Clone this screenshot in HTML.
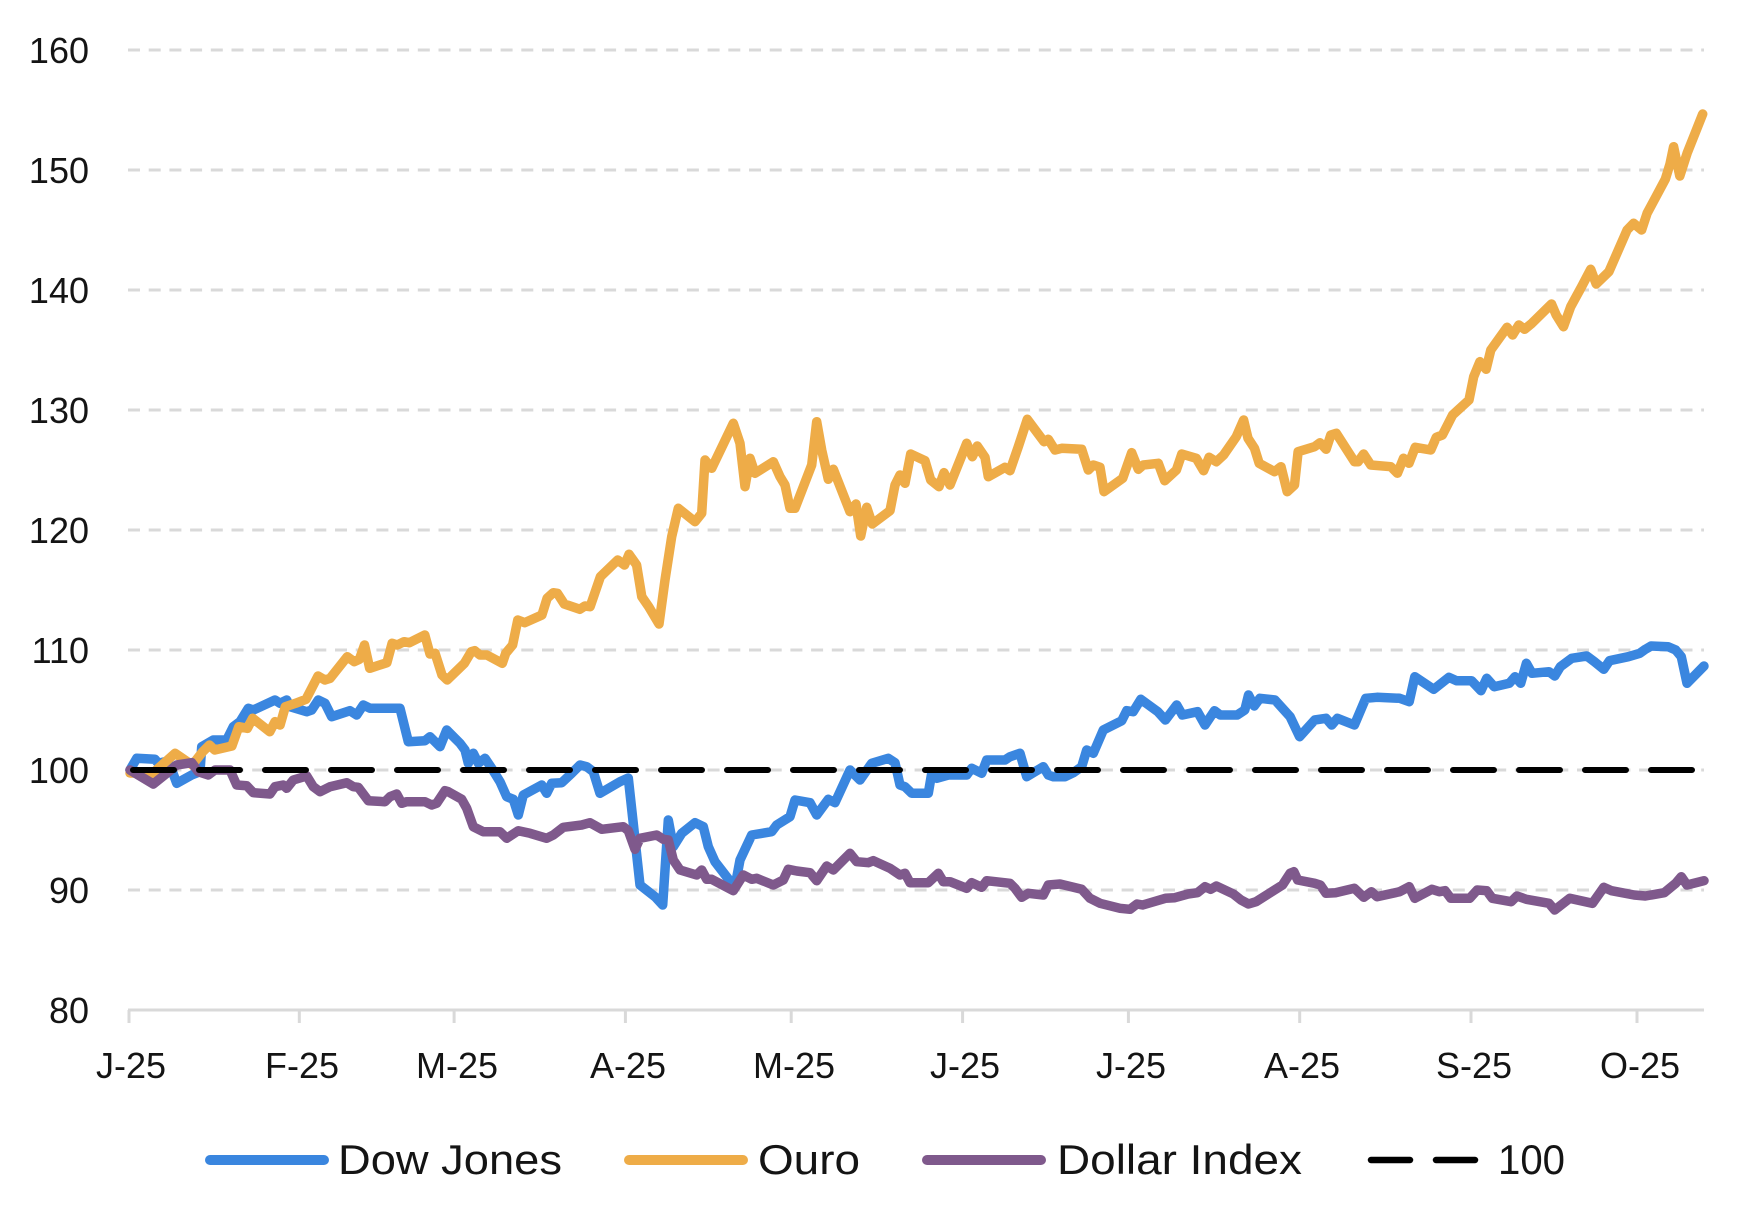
<!DOCTYPE html>
<html>
<head>
<meta charset="utf-8">
<style>
html,body{margin:0;padding:0;background:#fff;}
svg{display:block;}
text{font-family:"Liberation Sans",Arial,sans-serif;fill:#141414;}
</style>
</head>
<body>
<svg width="1755" height="1229" viewBox="0 0 1755 1229" xmlns="http://www.w3.org/2000/svg">
<rect width="1755" height="1229" fill="#fff"/>
<!-- gridlines -->
<g stroke="#d9d9d9" stroke-width="3" stroke-dasharray="12 8.7">
<line x1="128" y1="50" x2="1704" y2="50"/>
<line x1="128" y1="170" x2="1704" y2="170"/>
<line x1="128" y1="290" x2="1704" y2="290"/>
<line x1="128" y1="410" x2="1704" y2="410"/>
<line x1="128" y1="530" x2="1704" y2="530"/>
<line x1="128" y1="650" x2="1704" y2="650"/>
<line x1="128" y1="770" x2="1704" y2="770"/>
<line x1="128" y1="890" x2="1704" y2="890"/>
</g>
<!-- axis -->
<g stroke="#d9d9d9" stroke-width="3">
<line x1="128" y1="1010" x2="1704" y2="1010"/>
<line x1="129" y1="1010" x2="129" y2="1023"/>
<line x1="299.3" y1="1010" x2="299.3" y2="1023"/>
<line x1="454.1" y1="1010" x2="454.1" y2="1023"/>
<line x1="625.4" y1="1010" x2="625.4" y2="1023"/>
<line x1="791.2" y1="1010" x2="791.2" y2="1023"/>
<line x1="962.6" y1="1010" x2="962.6" y2="1023"/>
<line x1="1128.4" y1="1010" x2="1128.4" y2="1023"/>
<line x1="1299.7" y1="1010" x2="1299.7" y2="1023"/>
<line x1="1471" y1="1010" x2="1471" y2="1023"/>
<line x1="1637" y1="1010" x2="1637" y2="1023"/>
</g>
<!-- y labels -->
<g font-size="36" text-anchor="end">
<text x="89" y="63">160</text>
<text x="89" y="183">150</text>
<text x="89" y="303">140</text>
<text x="89" y="423">130</text>
<text x="89" y="543">120</text>
<text x="89" y="663">110</text>
<text x="89" y="783">100</text>
<text x="89" y="903">90</text>
<text x="89" y="1023">80</text>
</g>
<!-- x labels -->
<g font-size="36" text-anchor="middle">
<text x="131" y="1078">J-25</text>
<text x="302" y="1078">F-25</text>
<text x="457" y="1078">M-25</text>
<text x="628" y="1078">A-25</text>
<text x="794" y="1078">M-25</text>
<text x="965" y="1078">J-25</text>
<text x="1131" y="1078">J-25</text>
<text x="1302" y="1078">A-25</text>
<text x="1474" y="1078">S-25</text>
<text x="1640" y="1078">O-25</text>
</g>
<!-- series -->
<g fill="none" stroke-width="9.5" stroke-linejoin="round" stroke-linecap="round">
<polyline stroke="#3a86df" points="130,770 136.7,758.3 155,759.3 158.3,763.3 165,761.7 170,765 176.7,783.3 191.7,775 200,771.7 201.7,746.7 213.3,740 226.7,740 233.3,726.7 240,721.7 248.3,708.3 253.3,710 275,700 280,703.3 286.7,700 290,706.7 306.7,711.7 311.7,710 318.3,700 325,703.3 331.7,716.7 350,710.7 356.7,715 363.3,705 370,708.3 396.7,708.3 400,708.3 408.3,741.7 425,740.7 430,736.7 440,746.7 446.7,730 460,743.3 465,750 468.3,763.3 473.3,753.3 478.3,763.3 485,758.3 491.7,768.3 500,781.7 506.7,796.7 513.3,799.3 518.3,815 523.3,795 541.7,785 546.7,793.3 551.7,783.3 561.7,782.7 571.7,773.3 580,765 586.7,766.7 593.3,771.7 600,793.3 620,781.7 628.3,778 640,885 655,896.7 662.7,905 668.3,820 673.3,846.7 681.7,833.3 695,822.7 703.3,826.7 708.3,846.7 715,861.7 731.7,883.3 735,886.7 740,860 751.7,835 771.7,831.7 776.7,825 790,816.7 795,800 810,802.7 816.7,815 828.3,799.3 835,802.7 850,770 860,780 871.7,763.3 888.3,758.3 895,762.7 900,785 905,786.7 911.7,793.3 928.3,793.3 931.7,773.3 936.7,778.3 948.3,775 966.7,775 971.7,768.3 981.7,773.3 986.7,760 1005,760 1010,756.7 1020,753.3 1026.7,776.7 1043.3,766.7 1048.3,775 1053.3,776.7 1065,776.7 1073.3,772.7 1081.7,766.7 1086.7,750 1093.3,753.3 1103.3,730 1121.7,720.7 1126.7,710.7 1133.2,711.7 1140.8,699.3 1157.8,711.7 1165.4,720 1176.7,705 1182.4,715 1197.5,711.7 1205,725 1214.5,710.7 1220.2,715 1237.2,715 1244.8,710 1248.5,695 1254.2,706 1259.9,698.3 1275,700 1282.5,708.3 1290.1,716.7 1299.6,736.7 1314.7,720 1326,718.3 1331.7,725 1337.4,718.3 1354.4,725 1365.7,698.3 1377,697.3 1399.7,698.3 1409.2,701.7 1414.8,676.7 1433.7,689.3 1448.9,677.3 1456.4,680.7 1471.5,680.7 1481,690.7 1486.7,678.3 1494.2,686.7 1509.3,683.3 1515,676.7 1520.7,683.3 1526.4,663.3 1532,673.3 1549,671.7 1554.7,676 1560.4,666.7 1571.7,658.3 1586.8,656 1594.4,661.7 1603.8,669.3 1609.5,660.7 1628.4,656.7 1639.8,653.3 1645.4,649.3 1651.1,646 1668.1,646.7 1675.7,650 1681.3,656.7 1687,683.3 1704,666"/>
<polyline stroke="#eeac48" points="130,773 152.7,773.3 175.1,753.3 192.3,765 202.7,751.7 209.5,745 214.7,750 231.9,746 238.8,726.7 247.4,728.3 252.6,718.3 269.8,731.7 275,721.7 280.1,725 285.3,706.7 295.6,703.3 306,699.3 318,676 324.9,680 330.1,678.3 347.3,656.7 354.2,661.7 359.4,659.3 364.5,645 369.7,668.3 386.9,662.7 392.1,643.3 397.2,645 404.1,641.7 409.3,642.7 424.8,635 430,654 435.1,653.3 442,675 447.2,680 464.4,663.3 471.3,651.7 474.7,650.7 479.9,655 486.8,655 502.3,663.3 505.7,653.3 512.6,645 517.8,620 524.7,622.7 541.9,615 547.1,598.3 553.2,592.7 557.4,593.3 564.3,604 579.8,609.3 584.9,606 590.1,606.7 600.4,576.7 617.7,560 624.5,565 629,554.3 636.6,565 641.8,596.7 648.7,606.7 659,624 665,580 671.7,536.7 678.3,508.3 695,521.7 701.7,513.3 705,460 711.7,468.3 733.3,423.3 740,443.3 745,486.7 750,458.3 755,473.3 773.3,461.7 780,476.7 785,485 790,508.3 795,508.3 811.7,465 816.7,421.7 821.7,450 828.3,479.3 833.3,469.3 850,511.7 856,504 860.7,536 866.7,507.3 872.3,524 890,510.7 895,485 900,475 905,483.3 910.7,454 925,460.7 930.7,480 939,486.7 944,472.7 950,485 966.7,443.3 972.3,456.7 977.3,446 985,457.3 988.3,476.7 1005,467.3 1010,470.7 1018.3,446.7 1027.3,419.3 1044,441.7 1048.3,439.3 1055,450 1061.7,448.3 1081.7,449.3 1088.3,470 1093.3,465 1100,467.3 1104,491.7 1122.7,478.3 1131.7,452.7 1138.3,469.3 1143.3,465 1158.3,463.3 1164.7,480.7 1176.4,470 1181.8,454 1196.3,458.3 1203.6,470.7 1209.1,457.3 1216.3,461.7 1223.6,455 1236.3,436.7 1243.6,420 1248,438.3 1254.5,448.3 1259.2,463.3 1274.5,471.7 1281,466.7 1287.2,491.7 1294.5,485 1298.1,451.7 1314.5,446.7 1320,442.7 1326.1,449.3 1330.8,435 1336.3,433.3 1354.5,461.7 1358.1,461.7 1363.6,454 1370.8,465 1390.8,466.7 1397.4,473.3 1403.5,458.3 1409,463.3 1415.2,447.3 1430.8,450 1436.3,437.3 1442.4,435 1452.6,415 1469,400 1473.7,376.7 1479.9,361.7 1486.1,369.3 1490.8,350 1507.1,327.3 1512.6,335 1518.8,325 1524.6,329.3 1531.9,323.3 1551.5,304 1556.2,315 1563.5,326.7 1570.7,306.7 1581.6,286.7 1590.7,269.3 1596.2,284 1608.9,271.7 1627.1,230 1633.6,223.3 1641.6,230 1647.1,213.3 1665.3,179.3 1670,164 1673.6,146.7 1679.8,176 1687.1,153.3 1702.7,114"/>
<polyline stroke="#7f598c" points="130,770 153.3,784 166.7,773.3 176.7,765 191.7,762.7 198.3,771.7 208.3,775 215,770 230,770 236.7,785 246.7,785.7 253.3,792.7 270,794 275,786.7 283.3,785 286.7,788.3 293.3,780 306.7,776 313.3,786.7 320,791.7 330,786.7 346.7,782.7 353.3,786.7 358.3,787.3 368.3,800.7 385,801.7 390,796.7 396.7,794 401.7,803.3 406.7,801.7 425,801.7 431.7,805 436.7,803.3 445,790.7 448.3,791.7 461.7,799.3 466.7,808.3 473.3,826.7 483.3,831.7 500,831.7 506.7,838.3 518.3,830.7 530,833.3 546.7,838.3 553.3,835 563.3,827.3 581.7,825 590,822.7 601.7,829.3 623.3,826.7 628.3,830.7 635,849.3 640,838.3 656.7,835 663.3,839.3 668.3,840 673.3,860 680,870 696.7,875 701.7,870 706.7,879.3 711.7,879.3 733.3,890.7 743.3,875 751.7,879.3 756.7,878.3 773.3,885 783.3,880 788.3,869.3 796.7,871 810,872.7 816.7,880.7 826.7,866 833.3,870 850,853.3 856.7,861.7 868.3,862.7 873.3,860.7 890,868.3 900,875 905,873.3 910,882.7 928.3,882.7 938.3,873.3 943.3,881.7 950,881.7 966.7,888.3 971.7,882.7 981.7,887.3 986.7,880.7 1010,883.3 1015,888.3 1021.7,897.3 1028.3,893.3 1043.3,895 1048.3,885 1060,884 1081.7,889.3 1090,898.3 1100,903.3 1120,908.3 1130,909.3 1137,904 1142.7,905 1165.4,898.3 1174.8,897.7 1188,894 1197.5,892.7 1205,886.7 1210.7,889.3 1216.4,886 1233.4,894 1241,900 1248.5,904 1256.1,901.7 1282.5,885 1290.1,873.3 1293.9,871.7 1297.7,880 1314.7,883.3 1320.3,885 1326,893.3 1335.5,892.7 1354.4,888.3 1363.8,897.3 1371.4,891.7 1377,896.7 1399.7,891.7 1409.2,886.7 1414.8,898.3 1431.9,889.3 1439.4,891.7 1445.1,890.7 1450.8,898.3 1469.7,898.3 1477.2,890 1486.7,890.7 1492.3,898.3 1511.2,901.7 1516.9,896 1526.4,899.3 1549,903.3 1554.7,910 1569.8,898.3 1592.5,903.3 1603.8,887.3 1611.4,890.7 1634.1,895 1645.4,896 1664.3,892.7 1675.7,883.3 1681.3,876.7 1687,885 1704,880.7"/>
</g>
<!-- 100 line -->
<line x1="133" y1="770" x2="1704" y2="770" stroke="#000" stroke-width="6" stroke-linecap="round" stroke-dasharray="41 25"/>
<!-- legend -->
<g stroke-linecap="round">
<line x1="210" y1="1160" x2="324" y2="1160" stroke="#3a86df" stroke-width="10"/>
<line x1="629" y1="1160" x2="743" y2="1160" stroke="#eeac48" stroke-width="10"/>
<line x1="927" y1="1160" x2="1041" y2="1160" stroke="#7f598c" stroke-width="10"/>
<line x1="1371" y1="1160" x2="1410" y2="1160" stroke="#000" stroke-width="6.5"/>
<line x1="1436" y1="1160" x2="1475" y2="1160" stroke="#000" stroke-width="6.5"/>
</g>
<g font-size="42">
<text x="338" y="1174" textLength="224" lengthAdjust="spacingAndGlyphs">Dow Jones</text>
<text x="758" y="1174" textLength="102" lengthAdjust="spacingAndGlyphs">Ouro</text>
<text x="1057" y="1174" textLength="245" lengthAdjust="spacingAndGlyphs">Dollar Index</text>
<text x="1498" y="1174" textLength="67" lengthAdjust="spacingAndGlyphs">100</text>
</g>
</svg>
</body>
</html>
